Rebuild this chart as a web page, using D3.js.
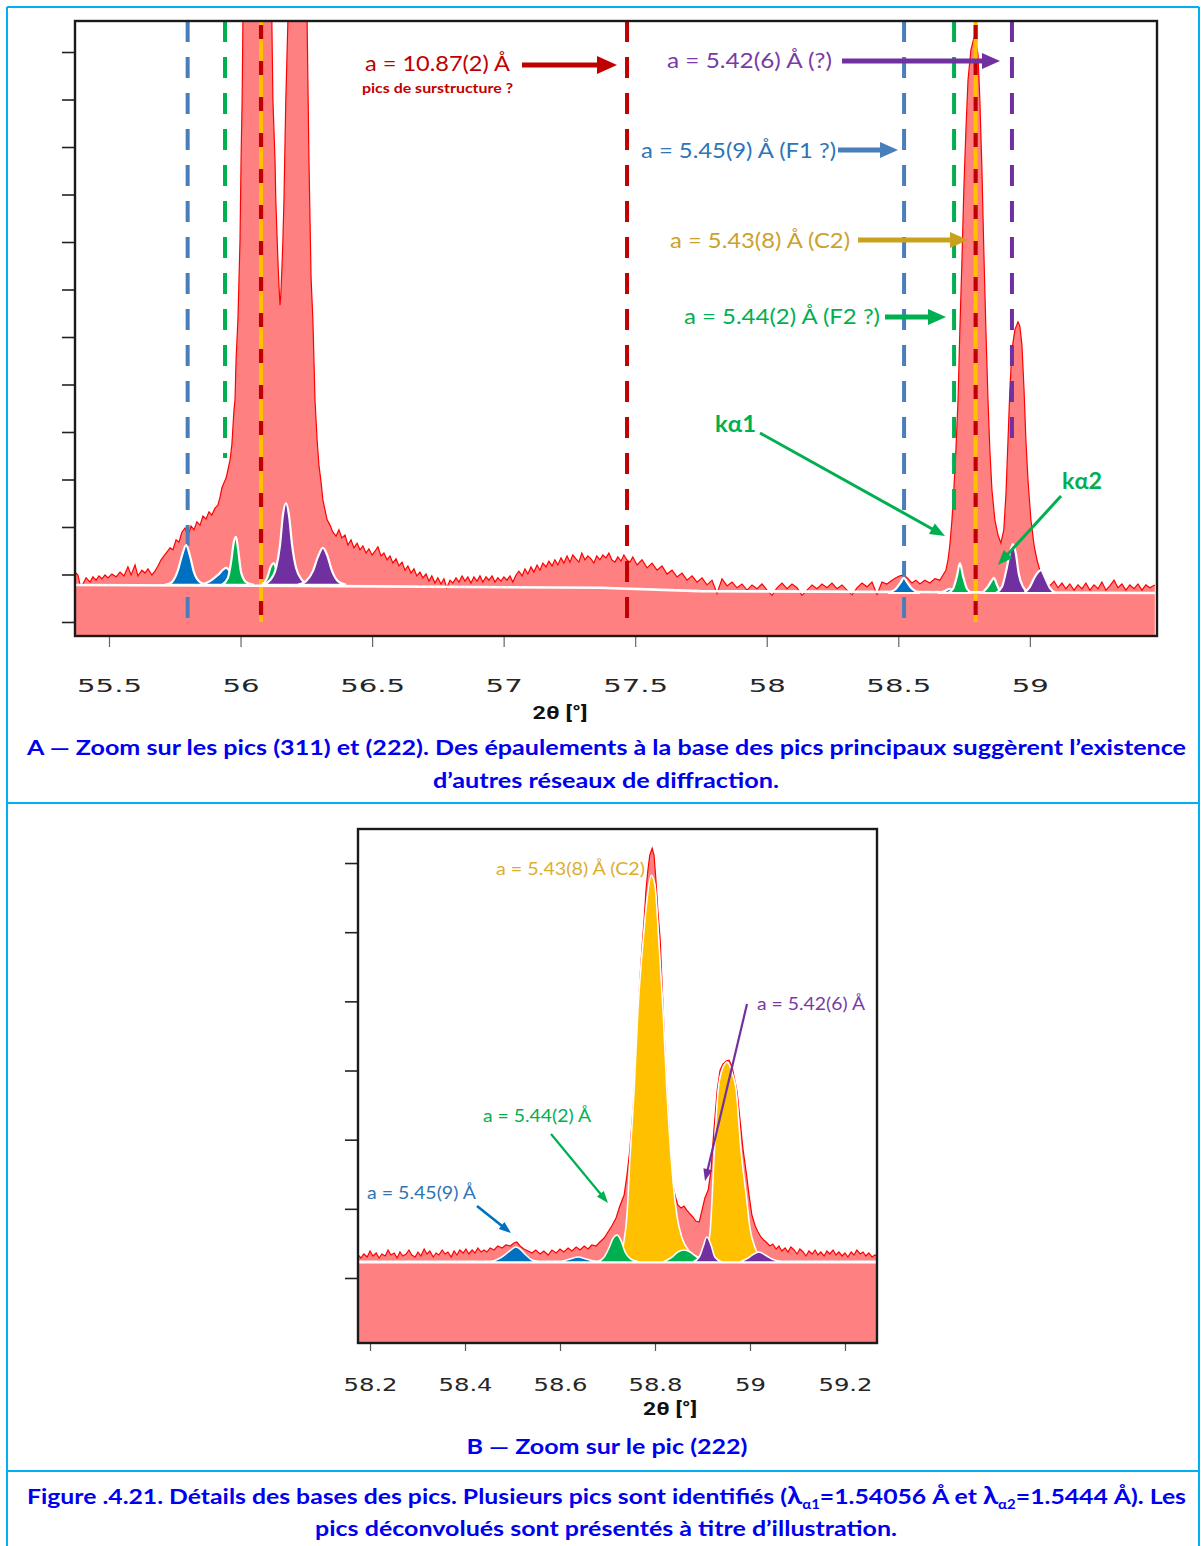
<!DOCTYPE html>
<html><head><meta charset="utf-8">
<script src="https://cdn.jsdelivr.net/npm/d3@7"></script>
<style>body{margin:0;background:#fff}svg{display:block}</style>
</head><body>
<svg id="fig" width="1201" height="1546"></svg>
<script>
// ---------------- DATA ----------------
// Panel A : measured profile [2θ (°), intensity (counts)]
const profileA = [
[55.371,1050],[55.382,990],[55.390,780],[55.401,800],[55.413,930],[55.428,840],[55.439,950],[55.451,880],[55.462,970],[55.473,910],[55.485,990],[55.496,930],[55.511,1010],[55.527,950],[55.542,1050],[55.557,970],[55.572,1160],[55.584,990],[55.599,1200],[55.610,970],[55.625,1090],[55.637,1030],[55.648,1120],[55.663,990],[55.675,1070],[55.686,1180],[55.698,1310],[55.709,1390],[55.720,1470],[55.732,1560],[55.743,1520],[55.755,1730],[55.766,1680],[55.777,1890],[55.789,1980],[55.800,1810],[55.812,2020],[55.823,1940],[55.834,2110],[55.846,2040],[55.857,2230],[55.869,2170],[55.880,2320],[55.891,2250],[55.903,2400],[55.914,2460],[55.922,2630],[55.929,2820],[55.937,2930],[55.945,3030],[55.952,3200],[55.960,3410],[55.967,3730],[55.975,4460],[55.979,4670],[55.983,5520],[55.990,6360],[55.994,7200],[55.998,8040],[56.002,9730],[56.006,10990],[56.009,12650],[56.021,16250],[56.044,19410],[56.066,20460],[56.089,19410],[56.112,15200],[56.119,12650],[56.123,10990],[56.131,9730],[56.134,8880],[56.142,7620],[56.146,7090],[56.150,6670],[56.153,6880],[56.157,7410],[56.161,8040],[56.165,8880],[56.172,10990],[56.180,12650],[56.195,16250],[56.218,18360],[56.241,16250],[56.253,12650],[56.260,9730],[56.268,7260],[56.275,6360],[56.283,4670],[56.291,3830],[56.298,3300],[56.306,2950],[56.313,2570],[56.321,2360],[56.329,2150],[56.340,2040],[56.351,1890],[56.363,1810],[56.374,1940],[56.385,1770],[56.397,1830],[56.408,1620],[56.420,1730],[56.431,1560],[56.443,1660],[56.454,1520],[56.465,1600],[56.477,1450],[56.488,1540],[56.500,1410],[56.511,1490],[56.522,1580],[56.534,1390],[56.545,1450],[56.557,1310],[56.568,1390],[56.579,1240],[56.591,1330],[56.602,1180],[56.614,1260],[56.625,1090],[56.636,1180],[56.648,1030],[56.659,1120],[56.670,970],[56.682,1050],[56.693,930],[56.705,1010],[56.716,860],[56.727,970],[56.739,820],[56.750,930],[56.762,800],[56.773,910],[56.784,720],[56.796,880],[56.807,820],[56.819,930],[56.830,840],[56.842,970],[56.853,860],[56.864,950],[56.876,820],[56.887,950],[56.899,860],[56.910,970],[56.921,840],[56.933,950],[56.944,880],[56.956,970],[56.967,840],[56.978,930],[56.990,860],[57.001,950],[57.013,880],[57.024,970],[57.035,840],[57.047,990],[57.058,1070],[57.070,970],[57.081,1120],[57.092,1010],[57.104,1160],[57.115,1050],[57.127,1200],[57.138,1090],[57.149,1240],[57.161,1160],[57.172,1280],[57.184,1180],[57.195,1310],[57.206,1200],[57.218,1350],[57.229,1240],[57.241,1390],[57.252,1260],[57.263,1410],[57.275,1330],[57.286,1260],[57.297,1450],[57.309,1310],[57.320,1390],[57.332,1330],[57.343,1240],[57.354,1390],[57.366,1310],[57.377,1410],[57.389,1350],[57.400,1450],[57.411,1310],[57.423,1260],[57.434,1370],[57.446,1280],[57.457,1410],[57.468,1310],[57.480,1260],[57.491,1370],[57.507,1200],[57.526,1310],[57.545,1140],[57.564,1240],[57.583,1090],[57.602,1180],[57.621,1010],[57.640,1090],[57.659,950],[57.678,1030],[57.697,880],[57.716,970],[57.735,840],[57.754,930],[57.773,780],[57.792,880],[57.811,600],[57.830,910],[57.849,760],[57.868,840],[57.887,720],[57.906,800],[57.925,670],[57.944,780],[57.963,700],[57.982,800],[58.001,670],[58.020,560],[58.039,720],[58.058,820],[58.077,700],[58.096,800],[58.115,720],[58.134,560],[58.153,670],[58.172,780],[58.191,700],[58.210,800],[58.229,720],[58.248,820],[58.267,700],[58.286,780],[58.305,670],[58.324,570],[58.343,720],[58.362,820],[58.381,740],[58.400,840],[58.419,580],[58.438,840],[58.457,800],[58.476,880],[58.491,930],[58.506,970],[58.521,990],[58.537,910],[58.552,820],[58.567,880],[58.582,800],[58.601,880],[58.620,820],[58.639,910],[58.658,880],[58.670,990],[58.681,1090],[58.689,1310],[58.696,1620],[58.704,2150],[58.711,2780],[58.719,3620],[58.727,4670],[58.734,6150],[58.742,7620],[58.749,9090],[58.757,10360],[58.765,11410],[58.776,12040],[58.787,12290],[58.795,12210],[58.803,11940],[58.810,10990],[58.818,9510],[58.825,7830],[58.833,6150],[58.841,4670],[58.848,3620],[58.856,2780],[58.867,2150],[58.879,1830],[58.890,1660],[58.901,1940],[58.909,2670],[58.917,3830],[58.924,4880],[58.932,5730],[58.943,6150],[58.955,6320],[58.962,6230],[58.970,5830],[58.978,4880],[58.985,3830],[58.993,2990],[59.004,2150],[59.016,1620],[59.027,1310],[59.038,1090],[59.050,930],[59.061,840],[59.076,760],[59.092,860],[59.107,720],[59.122,820],[59.137,700],[59.152,800],[59.168,670],[59.183,780],[59.198,700],[59.213,820],[59.228,670],[59.244,780],[59.259,700],[59.274,840],[59.289,670],[59.304,760],[59.320,880],[59.335,720],[59.350,800],[59.365,670],[59.380,780],[59.396,700],[59.411,800],[59.426,670],[59.441,780],[59.456,720],[59.475,780]
];
// Panel A : fitted background
const baselineA = [[55.371,780],[56.226,760],[57.366,720],[57.746,650],[59.483,610]];
// Panel A : deconvolved peaks (phase, points)
const peaksA = [
 {phase:"F1", pts:[[55.713,780],[55.739,840],[55.762,1090],[55.777,1390],[55.793,1620],[55.808,1390],[55.823,1050],[55.846,840],[55.876,780]]},
 {phase:"F1", pts:[[55.846,780],[55.884,860],[55.914,990],[55.945,1140],[55.967,1010],[55.998,840],[56.036,780]]},
 {phase:"F2", pts:[[55.929,780],[55.952,930],[55.964,1260],[55.975,1700],[55.983,1790],[55.990,1560],[56.002,1050],[56.021,840],[56.051,780]]},
 {phase:"F2", pts:[[56.082,780],[56.101,930],[56.116,1180],[56.127,1240],[56.138,1050],[56.157,780]]},
 {phase:"P",  pts:[[56.082,780],[56.112,880],[56.135,1140],[56.150,1620],[56.161,2250],[56.173,2500],[56.184,2250],[56.196,1620],[56.211,1140],[56.234,880],[56.260,780]]},
 {phase:"P",  pts:[[56.218,780],[56.249,860],[56.275,1070],[56.294,1370],[56.313,1560],[56.329,1410],[56.348,1070],[56.370,860],[56.401,780]]},
 {phase:"F1", pts:[[58.461,610],[58.491,700],[58.510,840],[58.521,930],[58.533,840],[58.552,700],[58.582,610]]},
 {phase:"F1", pts:[[58.651,610],[58.677,650],[58.696,700],[58.715,650],[58.734,610]]},
 {phase:"F2", pts:[[58.689,610],[58.708,700],[58.723,970],[58.734,1240],[58.746,970],[58.761,700],[58.780,610]]},
 {phase:"F2", pts:[[58.818,610],[58.837,720],[58.856,880],[58.863,930],[58.875,780],[58.890,610]]},
 {phase:"P",  pts:[[58.871,610],[58.894,740],[58.909,1050],[58.924,1450],[58.936,1640],[58.947,1430],[58.958,1010],[58.974,740],[58.996,610]]},
 {phase:"P",  pts:[[58.978,610],[59.000,740],[59.019,950],[59.042,1090],[59.058,930],[59.076,720],[59.099,610]]}
];
// Panel A : reference lines [phase, 2θ, from intensity, to intensity]
const refLinesA = [
 ["F1",55.799,12653,0],["F2",55.941,12653,3450],["C2S",56.078,12653,0],["S",57.469,12653,0],
 ["F1",58.522,12653,0],["F2",58.712,12653,2290],["C2S",58.794,12653,0],["P",58.932,12653,3870]
];
const xTicksA = [55.5,56,56.5,57,57.5,58,58.5,59];
const yTicksA = [0,1000,2000,3000,4000,5000,6000,7000,8000,9000,10000,11000,12000];

// Panel B : measured profile
const profileB = [
[58.175,665],[58.181,578],[58.187,694],[58.194,607],[58.200,780],[58.206,636],[58.213,723],[58.219,578],[58.225,694],[58.232,636],[58.238,809],[58.244,665],[58.251,723],[58.257,578],[58.263,751],[58.269,636],[58.276,694],[58.282,809],[58.288,665],[58.295,607],[58.301,751],[58.307,636],[58.314,838],[58.320,694],[58.326,780],[58.333,607],[58.339,723],[58.345,665],[58.352,809],[58.358,694],[58.364,751],[58.371,607],[58.377,780],[58.383,665],[58.389,809],[58.396,723],[58.402,838],[58.408,694],[58.415,809],[58.421,723],[58.427,867],[58.434,751],[58.440,809],[58.446,751],[58.453,867],[58.461,809],[58.469,925],[58.478,867],[58.486,954],[58.495,925],[58.503,1012],[58.509,1040],[58.516,925],[58.524,838],[58.533,780],[58.541,723],[58.549,809],[58.558,694],[58.566,780],[58.575,665],[58.583,809],[58.592,723],[58.600,838],[58.608,751],[58.617,867],[58.625,780],[58.634,896],[58.642,809],[58.651,925],[58.659,838],[58.667,954],[58.676,925],[58.684,1040],[58.693,1156],[58.701,1329],[58.709,1503],[58.718,1734],[58.726,2081],[58.735,2399],[58.741,2977],[58.747,3699],[58.752,4566],[58.756,5289],[58.760,6300],[58.764,7456],[58.768,8612],[58.773,9624],[58.777,10346],[58.781,11213],[58.785,11791],[58.789,12225],[58.794,12427],[58.798,12225],[58.802,11502],[58.806,10635],[58.811,9768],[58.815,8468],[58.819,7167],[58.823,5867],[58.827,4855],[58.832,3699],[58.836,2832],[58.842,2399],[58.848,2110],[58.855,2023],[58.861,2081],[58.867,1965],[58.874,1850],[58.880,1763],[58.886,1647],[58.893,1618],[58.899,1965],[58.905,2312],[58.912,2543],[58.918,3121],[58.924,4277],[58.931,5433],[58.937,6011],[58.943,6185],[58.950,6271],[58.956,6300],[58.962,6127],[58.968,5722],[58.973,5375],[58.979,4566],[58.985,3757],[58.992,3063],[58.998,2399],[59.004,1821],[59.011,1503],[59.017,1329],[59.023,1185],[59.029,1098],[59.036,1012],[59.042,925],[59.048,983],[59.055,838],[59.061,925],[59.067,780],[59.074,867],[59.080,751],[59.086,896],[59.093,809],[59.099,694],[59.105,838],[59.112,751],[59.118,636],[59.124,780],[59.131,694],[59.137,809],[59.143,665],[59.149,751],[59.156,636],[59.162,780],[59.168,694],[59.175,809],[59.181,665],[59.187,751],[59.194,636],[59.200,723],[59.206,607],[59.213,751],[59.219,665],[59.225,809],[59.232,694],[59.238,751],[59.244,636],[59.250,723],[59.257,607],[59.263,665],[59.267,636]
];
const baselineB = [[58.175,462],[59.267,462]];
const peaksB = [
 {phase:"C2", pts:[[58.709,462],[58.726,665],[58.735,1098],[58.741,1821],[58.747,3410],[58.756,5433],[58.764,7745],[58.775,9768],[58.783,10924],[58.792,11647],[58.800,11358],[58.808,9768],[58.817,7745],[58.825,5433],[58.836,3121],[58.846,1821],[58.857,1156],[58.874,751],[58.895,578],[58.920,462]]},
 {phase:"C2", pts:[[58.895,462],[58.907,751],[58.916,1329],[58.920,2254],[58.926,3988],[58.933,5433],[58.941,6011],[58.952,6242],[58.962,5953],[58.971,5433],[58.981,3699],[58.992,2399],[59.000,1445],[59.011,867],[59.025,578],[59.046,462]]},
 {phase:"F1", pts:[[58.453,462],[58.474,578],[58.491,751],[58.499,838],[58.507,896],[58.516,838],[58.526,694],[58.541,520],[58.558,462]]},
 {phase:"F1", pts:[[58.600,462],[58.621,549],[58.638,607],[58.655,549],[58.678,462]]},
 {phase:"F2", pts:[[58.678,462],[58.693,607],[58.703,867],[58.712,1156],[58.720,1243],[58.728,1098],[58.737,751],[58.749,549],[58.768,462]]},
 {phase:"F2", pts:[[58.817,462],[58.836,607],[58.848,751],[58.861,809],[58.874,751],[58.888,607],[58.907,462]]},
 {phase:"P",  pts:[[58.880,462],[58.893,607],[58.901,896],[58.909,1185],[58.918,954],[58.926,607],[58.941,462]]},
 {phase:"P",  pts:[[58.979,462],[58.996,578],[59.008,694],[59.019,751],[59.032,665],[59.046,549],[59.067,462]]}
];
const xTicksB = [58.2,58.4,58.6,58.8,59,59.2];
const yTicksB = [0,2000,4000,6000,8000,10000,12000];

// ---------------- STYLE ----------------
const peakColor = {F1:"#0070c0", F2:"#00b050", C2:"#ffc000", P:"#7030a0"};
const lineColor = {F1:"#4a7ebb", F2:"#00b050", C2:"#ffc000", S:"#c00000", P:"#7030a0"};
const RED="#ff0000", FILL="#ff8080", DARKRED="#c00000", GOLDTXT="#cca22c", BLUETXT="#2e75b6";
const CAP="#0000f0";

const svg = d3.select("#fig");
// frame of the figure
const frame = svg.append("g").attr("stroke","#00b0f0").attr("stroke-width",2);
frame.append("line").attr("x1",7).attr("y1",7).attr("x2",1199).attr("y2",7);
frame.append("line").attr("x1",7).attr("y1",7).attr("x2",7).attr("y2",1546);
frame.append("line").attr("x1",1199).attr("y1",7).attr("x2",1199).attr("y2",1546);
frame.append("line").attr("x1",7).attr("y1",803).attr("x2",1199).attr("y2",803);
frame.append("line").attr("x1",7).attr("y1",1471).attr("x2",1199).attr("y2",1471);

const defs = svg.append("defs");
function arrow(g,x1,y1,x2,y2,color,w,hl,hw){
  const dx=x2-x1, dy=y2-y1, L=Math.hypot(dx,dy), ux=dx/L, uy=dy/L;
  const bx=x2-ux*hl, by=y2-uy*hl;
  g.append("line").attr("x1",x1).attr("y1",y1).attr("x2",bx+ux).attr("y2",by+uy)
    .attr("stroke",color).attr("stroke-width",w);
  g.append("path").attr("d",`M${x2},${y2}L${bx-uy*hw/2},${by+ux*hw/2}L${bx+uy*hw/2},${by-ux*hw/2}Z`).attr("fill",color);
}
function label(g,txt,x,y,size,color,width,weight,anchor){
  const t=g.append("text").attr("x",x).attr("y",y).attr("font-family","Lato, 'Open Sans', sans-serif")
    .attr("font-size",size).attr("fill",color).attr("font-weight",weight||400)
    .attr("text-anchor",anchor||"start").text(txt);
  if(width) t.attr("textLength",width).attr("lengthAdjust","spacingAndGlyphs");
  return t;
}
function stretchTicks(sel, factor){
  sel.each(function(){const w=this.getComputedTextLength(); d3.select(this).attr("textLength",w*factor).attr("lengthAdjust","spacingAndGlyphs");});
}

// ================= PANEL A =================
const A = {l:75,t:21,r:1157,b:636};
const xA = d3.scaleLinear().domain([55.3708,59.4833]).range([A.l,A.r]);
const yA = d3.scaleLinear().domain([-295,12653]).range([A.b,A.t]);
defs.append("clipPath").attr("id","clipA").append("rect").attr("x",A.l).attr("y",A.t).attr("width",A.r-A.l).attr("height",A.b-A.t);
const gA = svg.append("g").attr("clip-path","url(#clipA)");

gA.append("path").datum(profileA).attr("fill",FILL)
  .attr("d",d3.area().x(d=>xA(d[0])).y0(A.b).y1(d=>yA(d[1])));
gA.append("path").datum(profileA).attr("fill","none").attr("stroke",RED).attr("stroke-width",1.2)
  .attr("d",d3.line().x(d=>xA(d[0])).y(d=>yA(d[1])));

// reference dashed lines
refLinesA.forEach(([ph,tt,i0,i1])=>{
  const x=xA(tt), y0=yA(i0), y1=yA(i1);
  if(ph==="C2S"){
    gA.append("line").attr("x1",x).attr("x2",x).attr("y1",y0).attr("y2",y1).attr("stroke","#ffc000").attr("stroke-width",4);
    gA.append("line").attr("x1",x).attr("x2",x).attr("y1",y0).attr("y2",y1).attr("stroke",DARKRED).attr("stroke-width",4.2).attr("stroke-dasharray","14,22").attr("stroke-dashoffset",-4);
  } else {
    gA.append("line").attr("x1",x).attr("x2",x).attr("y1",y0).attr("y2",y1).attr("stroke",lineColor[ph]).attr("stroke-width",4).attr("stroke-dasharray","21,15");
  }
});

// baseline + deconvolved peaks
gA.append("path").datum(baselineA).attr("fill","none").attr("stroke","#fff").attr("stroke-width",2.6)
  .attr("d",d3.line().x(d=>xA(d[0])).y(d=>yA(d[1])));
peaksA.forEach(p=>{
  const b=p.pts[0][1];
  gA.append("path").datum(p.pts).attr("fill",peakColor[p.phase]).attr("stroke","#fff").attr("stroke-width",2.2)
    .attr("d",d3.area().x(d=>xA(d[0])).y0(yA(b)).y1(d=>yA(d[1])).curve(d3.curveMonotoneX));
});

// axes A
const axA = svg.append("g");
const bx = axA.append("g").attr("transform",`translate(0,${A.b})`)
  .call(d3.axisBottom(xA).tickValues(xTicksA).tickSize(11).tickFormat(d=>String(d)));
bx.select(".domain").remove();
bx.selectAll(".tick line").attr("stroke","#666").attr("stroke-width",1.2);
bx.selectAll(".tick text").attr("y",56).attr("dy",0).attr("font-family","'DejaVu Sans', Verdana, sans-serif")
  .attr("font-size",18).attr("fill","#262626");
stretchTicks(bx.selectAll(".tick text"),1.62);
const ly = axA.append("g").attr("transform",`translate(${A.l},0)`)
  .call(d3.axisLeft(yA).tickValues(yTicksA).tickSize(13).tickFormat(""));
ly.select(".domain").remove();
ly.selectAll(".tick line").attr("stroke","#222").attr("stroke-width",1.6);
svg.append("rect").attr("x",A.l).attr("y",A.t).attr("width",A.r-A.l).attr("height",A.b-A.t)
  .attr("fill","none").attr("stroke","#1a1a1a").attr("stroke-width",2.4);
label(svg,"2θ [°]",560,719,19,"#111",55,700,"middle").attr("font-family","'Liberation Sans Narrow','Roboto',sans-serif");

// annotations A
const anA = svg.append("g");
label(anA,"a = 10.87(2) Å",365,71,22,DARKRED,145);
label(anA,"pics de surstructure ?",362,93,14,DARKRED,151,700);
arrow(anA,522,65,617,65,DARKRED,5,20,18);
label(anA,"a = 5.42(6) Å (?)",667,68,22,"#7a3aa6",165);
arrow(anA,842,61,1000,61,"#7030a0",5,18,16);
label(anA,"a = 5.45(9) Å (F1 ?)",641,158,22,BLUETXT,195);
arrow(anA,838,150,898,150,"#4a7ebb",5,18,16);
label(anA,"a = 5.43(8) Å (C2)",670,248,22,GOLDTXT,180);
arrow(anA,858,240,968,240,"#c9a11c",5,18,16);
label(anA,"a = 5.44(2) Å (F2 ?)",684,324,22,"#00b050",196);
arrow(anA,885,317,946,317,"#00b050",5,18,16);
label(anA,"kα1",715,432,22,"#00b050",41,700);
arrow(anA,760,433,945,536,"#00b050",3,15,12);
label(anA,"kα2",1062,489,22,"#00b050",40,700);
arrow(anA,1061,496,998,565,"#00b050",3,15,12);

// caption A
label(svg,"A — Zoom sur les pics (311) et (222). Des épaulements à la base des pics principaux suggèrent l’existence",27,755,21.5,CAP,1159,700);
label(svg,"d’autres réseaux de diffraction.",606,788,21.5,CAP,346,700,"middle");

// ================= PANEL B =================
const B = {l:358,t:829,r:877,b:1343};
const xB = d3.scaleLinear().domain([58.1747,59.2674]).range([B.l,B.r]);
const yB = d3.scaleLinear().domain([-1880,12984]).range([B.b,B.t]);
defs.append("clipPath").attr("id","clipB").append("rect").attr("x",B.l).attr("y",B.t).attr("width",B.r-B.l).attr("height",B.b-B.t);
const gB = svg.append("g").attr("clip-path","url(#clipB)");
gB.append("path").datum(profileB).attr("fill",FILL)
  .attr("d",d3.area().x(d=>xB(d[0])).y0(B.b).y1(d=>yB(d[1])));
gB.append("path").datum(profileB).attr("fill","none").attr("stroke",RED).attr("stroke-width",1.2)
  .attr("d",d3.line().x(d=>xB(d[0])).y(d=>yB(d[1])));
gB.append("path").datum(baselineB).attr("fill","none").attr("stroke","#fff").attr("stroke-width",3.2)
  .attr("d",d3.line().x(d=>xB(d[0])).y(d=>yB(d[1])));
peaksB.forEach(p=>{
  const b=p.pts[0][1];
  gB.append("path").datum(p.pts).attr("fill",peakColor[p.phase]).attr("stroke","#fff").attr("stroke-width",1.6)
    .attr("d",d3.area().x(d=>xB(d[0])).y0(yB(b)).y1(d=>yB(d[1])).curve(d3.curveMonotoneX));
});
const axB = svg.append("g");
const bxB = axB.append("g").attr("transform",`translate(0,${B.b})`)
  .call(d3.axisBottom(xB).tickValues(xTicksB).tickSize(8).tickFormat(d=>String(d)));
bxB.select(".domain").remove();
bxB.selectAll(".tick line").attr("stroke","#555").attr("stroke-width",1.2);
bxB.selectAll(".tick text").attr("y",48).attr("dy",0).attr("font-family","'DejaVu Sans', Verdana, sans-serif")
  .attr("font-size",17).attr("fill","#262626");
stretchTicks(bxB.selectAll(".tick text"),1.43);
const lyB = axB.append("g").attr("transform",`translate(${B.l},0)`)
  .call(d3.axisLeft(yB).tickValues(yTicksB).tickSize(13).tickFormat(""));
lyB.select(".domain").remove();
lyB.selectAll(".tick line").attr("stroke","#222").attr("stroke-width",1.6);
svg.append("rect").attr("x",B.l).attr("y",B.t).attr("width",B.r-B.l).attr("height",B.b-B.t)
  .attr("fill","none").attr("stroke","#1a1a1a").attr("stroke-width",2.4);
label(svg,"2θ [°]",670,1415,19,"#111",54,700,"middle").attr("font-family","'Liberation Sans Narrow','Roboto',sans-serif");

// annotations B
const anB = svg.append("g");
label(anB,"a = 5.43(8) Å (C2)",496,875,18,"#dcae2e",149);
label(anB,"a = 5.42(6) Å",757,1010,18,"#7a3aa6",108);
arrow(anB,747,1004,705,1181,"#7030a0",2.2,12,9);
label(anB,"a = 5.44(2) Å",483,1122,18,"#00b050",108);
arrow(anB,551,1134,608,1203,"#00b050",2.2,12,9);
label(anB,"a = 5.45(9) Å",367,1199,18,BLUETXT,109);
arrow(anB,477,1206,511,1233,"#0070c0",2.6,12,9);

label(svg,"B — Zoom sur le pic (222)",607,1454,21.5,CAP,281,700,"middle");

// figure caption
const fc = svg.append("text").attr("x",27).attr("y",1504).attr("font-family","Lato, sans-serif")
  .attr("font-size",21.5).attr("font-weight",700).attr("fill",CAP)
  .attr("textLength",1159).attr("lengthAdjust","spacingAndGlyphs");
fc.append("tspan").text("Figure .4.21. Détails des bases des pics. Plusieurs pics sont identifiés (");
fc.append("tspan").attr("font-size",24).text("λ");
fc.append("tspan").attr("font-size",13).attr("dy",5).text("α1");
fc.append("tspan").attr("dy",-5).text("=1.54056 Å et ");
fc.append("tspan").attr("font-size",24).text("λ");
fc.append("tspan").attr("font-size",13).attr("dy",5).text("α2");
fc.append("tspan").attr("dy",-5).text("=1.5444 Å). Les");
label(svg,"pics déconvolués sont présentés à titre d’illustration.",606,1536,21.5,CAP,582,700,"middle");
</script>
</body></html>
